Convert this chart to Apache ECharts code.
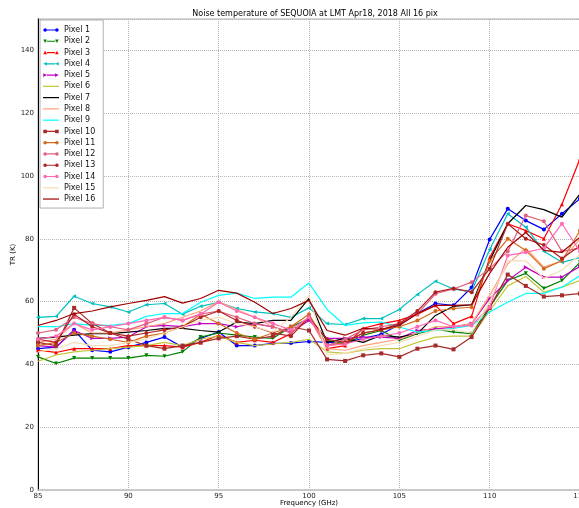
<!DOCTYPE html>
<html>
<head>
<meta charset="utf-8">
<script src="https://cdn.jsdelivr.net/npm/echarts@6/dist/echarts.min.js"></script>
<style>
html,body{margin:0;padding:0;background:#fff;}
#chart{width:579px;height:508px;}
</style>
</head>
<body>
<div id="chart"></div>
<script>
// Frequencies (GHz) of each measurement
const freqs = [85,86,87,88,89,90,91,92,93,94,95,96,97,98,99,100,101,102,103,104,105,106,107,108,109,110,111,112,113,114,115];

// Receiver noise temperature TR (K) per pixel
const pixel1  = [45,45.5,51,44.5,44,45.5,47,48.7,45.5,48.3,50.3,46,46,46.7,46.8,47.3,47,46.8,48.3,49.6,52.7,56.2,59.4,58.8,64.5,79.8,89.6,85.8,83,88,92.8];
const pixel2  = [42.4,40.3,42,42,42,42,42.9,42.6,44,48.7,50,49.3,48.7,48.3,51.9,54.6,47.7,46.4,49.3,50.8,47.7,49.8,51.2,50.3,49.8,58.3,66.7,69,64.2,66.7,72.5];
const pixel3  = [44.5,43.8,45,45,45,46,46,46,45.5,47,49.3,47,47.7,47,49.8,55,45,46,51.5,53,54,56,58.8,53,55.3,74,84.8,82.6,80,91,105.5];
const pixel4  = [55,55.3,61.7,59.4,58.3,56.7,59,59.4,56,58.5,59.8,57.8,56.7,56.2,55,58,53,52.7,54.6,54.6,57.5,62.3,66.5,64,63.2,76.6,88,83.7,76,72.5,74];
const pixel5  = [46,45.5,50.8,48.3,48.3,48.7,52,52.4,52,53,53,52,53,51.9,50.3,54,48.3,48.3,48.7,48.7,48.3,50.8,51.3,51.9,53,61,66.7,70.9,67.8,67.8,71.2];
const pixel6  = [41,43,44,44.5,45,45.5,46,47,46,48,49,47,46,46.5,47,48,44,43.5,44.5,45,45,47,48.7,49,49,57,65,68,63,64.6,66.7];
const pixel7  = [48.3,48.7,49.3,49.8,49.8,50.3,50.8,51.5,51.5,50.8,50.3,53.5,53,54,54,61,47,48.3,47,49.3,48.7,49.8,55.6,58.5,59,73,84.8,90.6,89.3,86.9,94.3];
const pixel8  = [47,48,53,50,50,51,52,53,55,57,60,57.5,55,52,50,55,45,44.5,46,47,48,50,52,52,53,62,72,77,71,73,80];
const pixel9  = [52,52,53,52.4,52.4,53,55.3,56.2,56.2,59.8,62,62.7,61,61.4,61.4,65.9,57.5,52.4,53.2,53.5,51.9,50.3,50.8,51.5,52.4,56.7,59.8,62.6,62.6,64.6,68.3];
const pixel10 = [47,46,58,53,50,48,46,45,46,47,48.3,49,48,49,52,50.8,41.6,41.1,42.9,43.5,42.4,45,46,44.8,48.7,58,68.6,65,61.6,62,62.6];
const pixel11 = [46,47,50,49,48,47,49,50,52,56,53,50,48,50,52,56,46,47,50,51,52,54,57,57.8,58.2,73,80,76.3,70.5,73,82.6];
const pixel12 = [50,51,55,53,52,51,53,55,54,56,57,55,53,52,50,55,46,48,51,52,53,56,62.5,64,66.2,70.5,76,87.4,85.6,76,77];
const pixel13 = [48,47,56,52,50,49,50,51,52,55,57,54,52,50,49,55,48,47,50,51,53,57,63,64.2,63,70.5,84.8,80,78,73.7,77.8];
const pixel14 = [48,49,53,51,52,53,54,55,54,56,59.8,57,55,53,51,55,46,46.5,48,49,50,52,54,52,52.4,58.3,74.7,75.7,77,84.8,76];
const pixel15 = [44,45,47,46,46,47,48,50,52,54,55,53,52,50.3,55,62,43,43.5,45,46,47,49,51,51,50,60,73,73,67.4,70,75];
const pixel16 = [52.4,54,56.2,57,58.3,59.4,60.4,61.6,59.5,61,63.6,62.7,59.8,56.2,57.8,60.4,50.8,49.3,51.5,51.2,52.4,56.2,58.8,58.8,59,69,77.3,82,76.3,75.7,80.5];

const names = ['Pixel 1','Pixel 2','Pixel 3','Pixel 4','Pixel 5','Pixel 6','Pixel 7','Pixel 8',
               'Pixel 9','Pixel 10','Pixel 11','Pixel 12','Pixel 13','Pixel 14','Pixel 15','Pixel 16'];
const values = [pixel1,pixel2,pixel3,pixel4,pixel5,pixel6,pixel7,pixel8,
                pixel9,pixel10,pixel11,pixel12,pixel13,pixel14,pixel15,pixel16];

// Line colour, marker shape and marker rotation for each pixel
const styles = [
  ['#0000ff','circle',0],
  ['#008000','triangle',180],
  ['#ff0000','triangle',0],
  ['#00bfbf','triangle',90],
  ['#bf00bf','triangle',-90],
  ['#c4c43a','none',0],
  ['#000000','none',0],
  ['#ffa07a','none',0],
  ['#00ffff','none',0],
  ['#a52a2a','rect',0],
  ['#d2691e','circle',0],
  ['#e0607e','circle',0],
  ['#b22222','circle',0],
  ['#ff69b4','circle',0],
  ['#f5deb3','none',0],
  ['#a00000','none',0]
];

// Legend handle: a short line with a marker at each end, drawn in a 16x8 box
function markerPath(kind, cx, cy, r) {
  switch (kind) {
    case 'circle':
      return `M${cx - r},${cy} A${r},${r} 0 1,1 ${cx + r},${cy} A${r},${r} 0 1,1 ${cx - r},${cy} Z`;
    case 'rect':
      return `M${cx - r},${cy - r} L${cx + r},${cy - r} L${cx + r},${cy + r} L${cx - r},${cy + r} Z`;
    case 'up':
      return `M${cx},${cy - r} L${cx + r},${cy + r} L${cx - r},${cy + r} Z`;
    case 'down':
      return `M${cx},${cy + r} L${cx - r},${cy - r} L${cx + r},${cy - r} Z`;
    case 'left':
      return `M${cx - r},${cy} L${cx + r},${cy - r} L${cx + r},${cy + r} Z`;
    case 'right':
      return `M${cx + r},${cy} L${cx - r},${cy + r} L${cx - r},${cy - r} Z`;
  }
  return '';
}
function legendIcon(sym, rot) {
  let kind = sym;
  if (sym === 'triangle') kind = rot === 180 ? 'down' : rot === 90 ? 'left' : rot === -90 ? 'right' : 'up';
  let p = 'M0,0 L0,0 M16,8 L16,8 ';
  if (sym === 'none') {
    p += 'M0,3.4 L16,3.4 L16,4.6 L0,4.6 Z';
  } else {
    p += 'M3.8,3.4 L12.2,3.4 L12.2,4.6 L3.8,4.6 Z ' +
         markerPath(kind, 2.1, 4, 1.8) + ' ' + markerPath(kind, 13.9, 4, 1.8);
  }
  return 'path://' + p;
}

const font = 'DejaVu Sans';

const series = names.map((n, i) => ({
  name: n,
  type: 'line',
  data: freqs.map((f, k) => [f, values[i][k]]),
  symbol: styles[i][1],
  symbolRotate: styles[i][2],
  symbolSize: styles[i][1] === 'none' ? 0 : 4,
  showSymbol: styles[i][1] !== 'none',
  lineStyle: { color: styles[i][0], width: 1.2 },
  itemStyle: { color: styles[i][0] },
  emphasis: { disabled: true },
  z: 2 + i
}));

const legendData = names.map((n, i) => ({ name: n, icon: legendIcon(styles[i][1], styles[i][2]) }));

const chart = echarts.init(document.getElementById('chart'), null, { renderer: 'canvas' });
chart.setOption({
  animation: false,
  backgroundColor: '#ffffff',
  textStyle: { fontFamily: font },
  title: {
    text: 'Noise temperature of SEQUOIA at LMT Apr18, 2018 All 16 pix',
    left: 310, top: 5, textAlign: 'center',
    textStyle: { fontFamily: font, fontSize: 8, fontWeight: 'normal', color: '#000' }
  },
  grid: {
    left: 38, top: 19, width: 542, height: 471,
    containLabel: false, outerBoundsMode: 'none',
    show: true, borderColor: '#c8c8c8', borderWidth: 1.5, backgroundColor: '#fff'
  },
  legend: {
    orient: 'vertical', left: 40, top: 20,
    data: legendData,
    itemWidth: 16, itemHeight: 8, itemGap: 3.27,
    padding: [6, 8, 5, 3],
    backgroundColor: '#fff', borderColor: '#b0b0b0', borderWidth: 1,
    textStyle: { fontFamily: font, fontSize: 8, color: '#111', lineHeight: 8 },
    z: 20
  },
  xAxis: {
    type: 'value', min: 85, max: 115, interval: 5,
    name: 'Frequency (GHz)', nameLocation: 'middle', nameGap: 10, nameMoveOverlap: false,
    nameTextStyle: { fontFamily: font, fontSize: 7, color: '#000' },
    axisLine: { show: true, onZero: false, lineStyle: { color: '#c8c8c8', width: 1.5 } },
    axisTick: { show: false },
    axisLabel: { fontFamily: font, fontSize: 7, color: '#222', margin: 3 },
    splitLine: { show: true, lineStyle: { color: '#b4b4b4', type: 'dotted', width: 1 } }
  },
  yAxis: {
    type: 'value', min: 0, max: 150, interval: 20,
    name: 'TR (K)', nameLocation: 'middle', nameGap: 21, nameRotate: 90, nameMoveOverlap: false,
    nameTextStyle: { fontFamily: font, fontSize: 7, color: '#000' },
    axisLine: { show: true, onZero: false, lineStyle: { color: '#000', width: 1 } },
    axisTick: { show: false },
    axisLabel: { fontFamily: font, fontSize: 7, color: '#222', margin: 4,
                 formatter: v => (v % 20 === 0 ? String(v) : '') },
    splitLine: { show: true, lineStyle: { color: '#b4b4b4', type: 'dotted', width: 1 } }
  },
  series: series
});
</script>
</body>
</html>
